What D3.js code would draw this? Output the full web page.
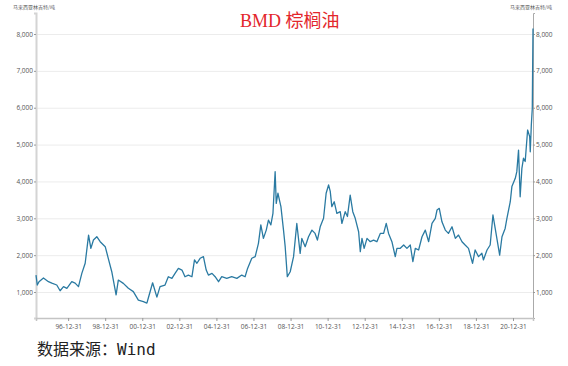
<!DOCTYPE html>
<html>
<head>
<meta charset="utf-8">
<script src="https://cdn.jsdelivr.net/npm/d3@7"></script>
<style>
  html, body { margin: 0; padding: 0; background: #fff; }
  svg { display: block; }
</style>
</head>
<body>
<div id="chart"></div>
<script>
// BMD palm oil price, MYR/ton
var dates = [
  '1995-04-08','1995-05-03','1995-06-06','1995-09-02','1995-12-09','1996-02-14','1996-05-21','1996-07-26','1996-10-01','1996-12-06',
  '1997-03-13','1997-05-18','1997-07-23','1997-09-27','1997-12-02','1998-02-07','1998-03-24','1998-05-14','1998-07-19','1998-09-24',
  '1999-01-01','1999-03-02','1999-05-10','1999-08-03','1999-09-16','1999-12-24','2000-04-01','2000-07-08','2000-10-15','2001-01-22',
  '2001-04-01','2001-04-28','2001-07-23','2001-10-15','2001-12-16','2002-03-24','2002-05-28','2002-08-07','2002-10-08','2002-12-13',
  '2003-02-21','2003-04-22','2003-06-27','2003-09-06','2003-10-26','2003-12-13','2004-02-14','2004-04-19','2004-06-13','2004-07-26',
  '2004-10-05','2004-12-06','2005-02-11','2005-04-15','2005-07-23','2005-10-28','2006-02-07','2006-05-14','2006-07-19','2006-09-06',
  '2006-11-28','2007-02-03','2007-04-08','2007-05-25','2007-07-15','2007-09-09','2007-10-22','2007-12-09','2008-01-19','2008-03-02',
  '2008-03-24','2008-04-26','2008-05-25','2008-06-24','2008-08-14','2008-09-16','2008-10-28','2008-12-24','2009-02-28','2009-05-03',
  '2009-07-08','2009-08-10','2009-10-15','2009-12-20','2010-02-25','2010-04-28','2010-06-13','2010-08-07','2010-10-12','2010-12-02',
  '2011-01-19','2011-02-21','2011-03-24','2011-05-10','2011-07-01','2011-09-06','2011-10-08','2011-12-13','2012-01-26','2012-03-20',
  '2012-05-10','2012-06-27','2012-09-02','2012-10-05','2012-11-07','2012-12-20','2013-02-14','2013-04-19','2013-06-24','2013-08-28',
  '2013-11-03','2014-01-08','2014-02-28','2014-04-15','2014-06-20','2014-08-25','2014-09-27','2014-12-02','2015-02-07','2015-04-12',
  '2015-06-17','2015-08-07','2015-09-24','2015-11-28','2016-02-03','2016-04-08','2016-06-13','2016-08-18','2016-10-22','2016-11-25',
  '2017-01-08','2017-03-02','2017-05-07','2017-07-08','2017-09-16','2017-11-21','2018-01-22','2018-04-01','2018-06-02','2018-08-07',
  '2018-10-26','2018-12-16','2019-02-21','2019-04-28','2019-05-28','2019-08-07','2019-10-08','2019-12-02','2020-01-15','2020-04-12',
  '2020-05-28','2020-07-29','2020-09-02','2020-11-07','2020-12-09','2021-02-14','2021-03-16','2021-04-19','2021-05-21','2021-06-24',
  '2021-07-26','2021-08-28','2021-10-15','2021-11-25','2021-12-06','2021-12-27','2022-01-15','2022-01-29'
];
var prices = [
  1460,1190,1280,1380,1280,1240,1190,1035,1145,1100,
  1280,1240,1145,1505,1780,2545,2185,2410,2500,2365,
  2230,1915,1550,920,1325,1235,1100,1010,780,740,
  700,830,1250,860,1145,1190,1415,1370,1505,1640,
  1595,1415,1460,1415,1870,1780,1915,1960,1595,1460,
  1505,1415,1280,1415,1370,1415,1370,1460,1415,1640,
  1915,1960,2320,2820,2455,2680,2950,2820,3135,4265,
  3405,3680,3500,3315,2680,2230,1415,1550,1960,2860,
  2050,2455,2230,2500,2680,2590,2410,2770,3000,3680,
  3905,3730,3315,3450,3135,3180,2860,3180,3050,3630,
  3180,3000,2635,2095,2455,2185,2455,2365,2410,2365,
  2590,2590,2860,2590,2365,1960,2185,2185,2275,2185,
  2275,1825,2185,2140,2500,2680,2365,2860,3000,3225,
  3270,2905,2680,2590,2770,2455,2545,2365,2275,2185,
  1780,2140,1960,2050,1870,2140,2275,3090,2725,2000,
  2500,2725,3000,3450,3860,4085,4265,4850,3585,4355,
  4630,4540,5395,5215,4805,5530,5980,8150
];
var yTicks = [1000, 2000, 3000, 4000, 5000, 6000, 7000, 8000];
var xTickDates = ['1996-12-31','1998-12-31','2000-12-31','2002-12-31','2004-12-31','2006-12-31',
  '2008-12-31','2010-12-31','2012-12-31','2014-12-31','2016-12-31','2018-12-31','2020-12-31'];
var unitLabel = '马来西亚林吉特/吨';
var titleText = 'BMD 棕榈油';
var sourceText = '数据来源：Wind';

var W = 568, H = 366;
var plotL = 36, plotR = 533, plotT = 13, plotB = 318;

var parseDate = d3.timeParse('%Y-%m-%d');
var data = dates.map(function(d, i) { return { date: parseDate(d), value: prices[i] }; });

var svg = d3.select('#chart').append('svg')
  .attr('width', W)
  .attr('height', H);

var x = d3.scaleTime()
  .domain([parseDate('1995-04-08'), parseDate('2022-01-29')])
  .range([plotL, plotR]);
var y = d3.scaleLinear()
  .domain([295, 8570])
  .range([plotB, plotT]);

// gridlines
svg.append('g')
  .selectAll('line')
  .data(yTicks)
  .join('line')
  .attr('x1', plotL)
  .attr('x2', plotR)
  .attr('y1', function(d) { return y(d) + 0.5; })
  .attr('y2', function(d) { return y(d) + 0.5; })
  .style('stroke', '#ececec')
  .style('stroke-width', 1);

var fmt = d3.format(',');

// left axis
var gl = svg.append('g')
  .attr('transform', 'translate(' + plotL + ',0)')
  .call(d3.axisLeft(y).tickValues(yTicks).tickFormat(fmt).tickSize(2).tickPadding(1));
gl.select('.domain').style('stroke', '#d4d4d4').style('stroke-width', 2);
gl.selectAll('.tick line').style('stroke', '#999');
gl.selectAll('.tick text').style('fill', '#555').style('font-size', '6.5px')
  .style('font-family', 'Open Sans, Liberation Sans, sans-serif');

// right axis
var gr = svg.append('g')
  .attr('transform', 'translate(' + plotR + ',0)')
  .call(d3.axisRight(y).tickValues(yTicks).tickFormat(fmt).tickSize(2).tickPadding(1));
gr.select('.domain').style('stroke', '#aaa').style('stroke-width', 1);
gr.selectAll('.tick line').style('stroke', '#999');
gr.selectAll('.tick text').style('fill', '#555').style('font-size', '6.5px')
  .style('font-family', 'Open Sans, Liberation Sans, sans-serif');

// bottom axis
var gb = svg.append('g')
  .attr('transform', 'translate(0,' + plotB + ')')
  .call(d3.axisBottom(x).tickValues(xTickDates.map(parseDate))
    .tickFormat(d3.timeFormat('%y-%m-%d')).tickSize(3).tickPadding(3));
gb.select('.domain').style('stroke', '#c4c4c4').style('stroke-width', 1.5);
gb.selectAll('.tick line').style('stroke', '#999');
gb.selectAll('.tick text').style('fill', '#555').style('font-size', '6.5px')
  .style('font-family', 'Open Sans, Liberation Sans, sans-serif');

// price line
var line = d3.line()
  .x(function(d) { return x(d.date); })
  .y(function(d) { return y(d.value); });

svg.append('path')
  .datum(data)
  .attr('d', line)
  .style('fill', 'none')
  .style('stroke', '#2a7aa2')
  .style('stroke-width', 1.3)
  .style('stroke-linejoin', 'round');

// unit labels
svg.append('text')
  .attr('x', 13).attr('y', 9)
  .style('font-size', '5px').style('fill', '#555')
  .style('font-family', 'Noto Sans CJK SC, sans-serif')
  .text(unitLabel);
svg.append('text')
  .attr('x', 510).attr('y', 9)
  .style('font-size', '5px').style('fill', '#555')
  .style('font-family', 'Noto Sans CJK SC, sans-serif')
  .text(unitLabel);

// title
svg.append('text')
  .attr('x', 240).attr('y', 27)
  .style('font-size', '18px').style('fill', '#e3262b')
  .style('font-family', 'Liberation Serif, Noto Sans CJK SC, serif')
  .text(titleText);

// source
svg.append('text')
  .attr('x', 37).attr('y', 355)
  .style('font-size', '16px').style('fill', '#222')
  .style('font-family', 'DejaVu Sans Mono, Noto Sans CJK SC, monospace')
  .text(sourceText);
</script>
</body>
</html>
